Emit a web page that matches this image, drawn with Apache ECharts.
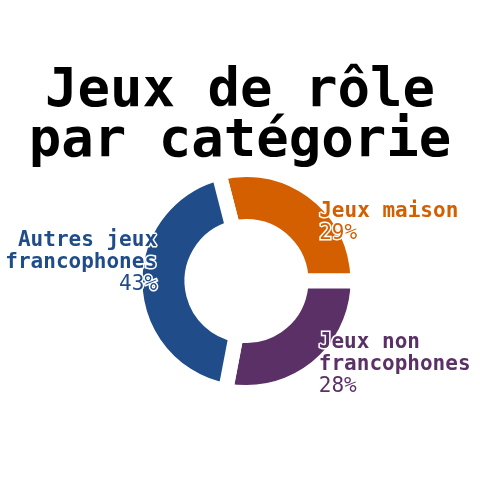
<!DOCTYPE html>
<html>
<head>
<meta charset="utf-8">
<script src="https://cdn.jsdelivr.net/npm/echarts@6/dist/echarts.min.js"></script>
<style>html,body{margin:0;padding:0;background:#fff}#c{width:480px;height:480px}</style>
</head>
<body>
<div id="c"></div>
<script>
const titleText = 'Jeux de rôle\npar catégorie';
const categories = ['Jeux maison', 'Jeux non francophones', 'Autres jeux francophones'];
const labelLines = [['Jeux maison'], ['Jeux non', 'francophones'], ['Autres jeux', 'francophones']];
const values = [29, 28, 43];
const colors = ['#d35f00', '#5a3066', '#204c8a'];
const labelAligns = ['left', 'left', 'right'];
const labelShift = [[20, 9.2], [17.5, 17.1], [-3.5, -21.6]];

const FONT = '"DejaVu Sans Mono", "Liberation Mono", monospace';
const total = values.reduce((a, b) => a + b, 0);

const data = categories.map((name, i) => ({
  name: name,
  value: values[i],
  itemStyle: { color: colors[i] },
  label: {
    color: colors[i],
    align: labelAligns[i],
    formatter: labelLines[i].map(l => '{n|' + l + '}').join('\n') + '\n{p|' + Math.round(values[i] / total * 100) + '%}',
    rich: {
      n: { fontFamily: FONT, fontWeight: 'bold', fontSize: 21, lineHeight: 22, color: colors[i], align: labelAligns[i], textBorderColor: '#fff', textBorderWidth: 3 },
      p: { fontFamily: FONT, fontWeight: 'normal', fontSize: 21, lineHeight: 22, color: colors[i], align: labelAligns[i], textBorderColor: '#fff', textBorderWidth: 3 }
    }
  }
}));

const chart = echarts.init(document.getElementById('c'), null, { renderer: 'canvas' });
chart.setOption({
  animation: false,
  backgroundColor: '#fff',
  title: {
    text: titleText,
    left: 'center',
    top: 61.5,
    textStyle: { fontFamily: FONT, fontWeight: 'bold', fontSize: 54, lineHeight: 50, color: '#000' }
  },
  series: [{
    type: 'pie',
    center: [246.5, 281],
    radius: [54.5, 111.5],
    startAngle: values[0] / total * 360,
    clockwise: true,
    avoidLabelOverlap: false,
    emphasis: { disabled: true },
    itemStyle: { borderColor: '#ffffff', borderWidth: 15, borderJoin: 'miter' },
    label: { show: true, position: 'inside' },
    labelLine: { show: false },
    labelLayout: function (p) {
      const i = p.dataIndex;
      return { align: labelAligns[i], verticalAlign: 'middle', dx: labelShift[i][0], dy: labelShift[i][1] };
    },
    data: data
  }]
});
</script>
</body>
</html>
